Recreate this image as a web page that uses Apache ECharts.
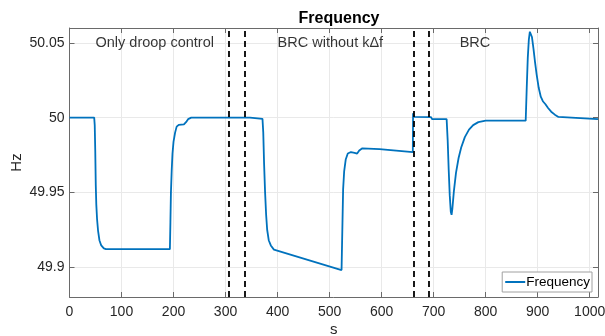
<!DOCTYPE html>
<html>
<head>
<meta charset="utf-8">
<script src="https://cdn.jsdelivr.net/npm/echarts@6/dist/echarts.min.js"></script>
<style>
  html, body { margin: 0; padding: 0; background: #fff; }
  #chart { width: 605px; height: 336px; }
</style>
</head>
<body>
<div id="chart"></div>
<script>
// Grid frequency trace (s, Hz)
const timeS = [
  0, 47.5, 48.5, 49.5, 50.5, 51.5, 53, 55, 57.5, 61, 66, 70,
  193, 194, 195, 196.5, 198, 200, 203, 206, 210, 220, 224, 228, 234,
  347, 349, 371, 372.5, 374, 376, 378, 380, 383, 387, 393,
  523, 524.5, 526, 528, 531, 535, 541, 548, 553, 557, 563, 596, 598, 628, 630, 660,
  660.5, 663, 695, 697, 725,
  727, 729, 731, 733, 734.5, 736, 739, 743, 748, 753, 760, 768, 776, 786, 800,
  877, 879, 881, 883, 885, 887, 889, 892, 895, 898, 902, 906, 910, 915, 920, 926, 933, 940,
  965, 967, 1016
];
const freqHz = [
  50, 50, 49.995, 49.978, 49.955, 49.942, 49.932, 49.924, 49.918, 49.9145, 49.9125, 49.912,
  49.912, 49.93, 49.95, 49.965, 49.976, 49.984, 49.99, 49.994, 49.9952, 49.9955, 49.997, 49.999, 50,
  50, 49.9992, 49.9992, 49.99, 49.97, 49.95, 49.935, 49.925, 49.918, 49.9145, 49.9117,
  49.898, 49.925, 49.952, 49.964, 49.972, 49.976, 49.977, 49.9765, 49.976, 49.978, 49.9795, 49.979, 49.978, 49.978, 49.977, 49.977,
  50.003, 50.0005, 50.0004, 49.999, 49.999,
  49.985, 49.965, 49.948, 49.937, 49.935, 49.939, 49.951, 49.963, 49.973, 49.98, 49.987, 49.992, 49.995, 49.997, 49.998,
  49.998, 50.02, 50.04, 50.052, 50.0575, 50.0575, 50.054, 50.046, 50.037, 50.029, 50.02, 50.014, 50.011, 50.009, 50.0065, 50.004, 50.002, 50.0005,
  50.0, 49.999, 49.999
];

// Control-mode switching instants (dashed markers)
const switchTimes = [307, 337, 661, 691];

// Section captions
const captionText = ['Only droop control', 'BRC without k\u0394f', 'BRC'];
const captionTime = [50, 400, 750];
const captionFreq = [50.05, 50.05, 50.05];

const yTicks = [49.9, 49.95, 50, 50.05];

const font = 'Liberation Sans, Arial, Helvetica, sans-serif';
const axisColor = '#6a6a6a';
const gridColor = '#e9e9e9';
const lineBlue = '#0072BD';

const chart = echarts.init(document.getElementById('chart'), null, { renderer: 'canvas' });

const lineData = timeS.map((t, i) => [t, freqHz[i]]);
const captionData = captionText.map((s, i) => ({ name: s, value: [captionTime[i], captionFreq[i]] }));

const plainNumber = v => String(Math.round(v * 1000) / 1000);

const baseX = {
  type: 'value', min: 0, max: 1016, interval: 100,
  axisLine: { show: true, onZero: false, lineStyle: { color: axisColor, width: 1 } },
  axisTick: { show: true, inside: true, length: 5, lineStyle: { color: axisColor } },
  splitLine: { show: false }
};
const baseY = {
  type: 'value', min: 49.88, max: 50.06,
  axisLine: { show: true, onZero: false, lineStyle: { color: axisColor, width: 1 } },
  axisTick: { show: true, inside: true, length: 5, customValues: yTicks, lineStyle: { color: axisColor } },
  splitLine: { show: false }
};

chart.setOption({
  animation: false,
  backgroundColor: '#fff',
  title: {
    text: 'Frequency',
    left: 334, top: 6, textAlign: 'center',
    textStyle: { fontFamily: font, fontSize: 16, fontWeight: 'bold', color: '#000' }
  },
  grid: { left: 69.5, right: 7, top: 28, bottom: 39, containLabel: false, outerBoundsMode: 'none' },
  legend: {
    data: [{ name: 'Frequency', icon: 'rect' }],
    right: 13, top: 272,
    orient: 'vertical',
    itemWidth: 20, itemHeight: 2,
    padding: [3, 2, 3, 3],
    borderColor: '#a0a0a0', borderWidth: 1,
    backgroundColor: '#fff',
    textStyle: { fontFamily: font, fontSize: 13.5, color: '#000', padding: [0, 0, 0, -4] }
  },
  xAxis: [
    Object.assign({}, baseX, {
      position: 'bottom',
      name: 's', nameLocation: 'middle', nameGap: 25, nameMoveOverlap: false,
      nameTextStyle: { fontFamily: font, fontSize: 15, color: '#262626' },
      axisLabel: { show: true, formatter: plainNumber, fontFamily: font, fontSize: 14, color: '#262626', margin: 8 },
      splitLine: { show: true, lineStyle: { color: gridColor, width: 1 } }
    }),
    Object.assign({}, baseX, { position: 'top', axisLabel: { show: false } })
  ],
  yAxis: [
    Object.assign({}, baseY, {
      position: 'left',
      name: 'Hz', nameLocation: 'middle', nameGap: 45, nameMoveOverlap: false,
      nameTextStyle: { fontFamily: font, fontSize: 15, color: '#262626' },
      axisLabel: { show: true, customValues: yTicks, formatter: plainNumber, fontFamily: font, fontSize: 14, color: '#262626', margin: 5 },
      splitLine: { show: true, lineStyle: { color: gridColor, width: 1 } }
    }),
    Object.assign({}, baseY, { position: 'right', axisLabel: { show: false } })
  ],
  series: [
    {
      name: 'Frequency',
      type: 'line',
      data: lineData,
      symbol: 'none',
      z: 3,
      lineStyle: { color: lineBlue, width: 1.8 },
      itemStyle: { color: lineBlue },
      markLine: {
        silent: true,
        symbol: ['none', 'none'],
        label: { show: false },
        lineStyle: { color: '#000', width: 1.8, type: [6, 4] },
        data: switchTimes.map(t => ({ xAxis: t }))
      }
    },
    {
      name: 'captions',
      type: 'scatter',
      data: captionData,
      symbolSize: 0,
      silent: true,
      z: 4,
      label: {
        show: true,
        position: [0, 0],
        align: 'left',
        verticalAlign: 'middle',
        formatter: p => p.name,
        fontFamily: font, fontSize: 14.5, color: '#000'
      }
    }
  ]
});
</script>
</body>
</html>
